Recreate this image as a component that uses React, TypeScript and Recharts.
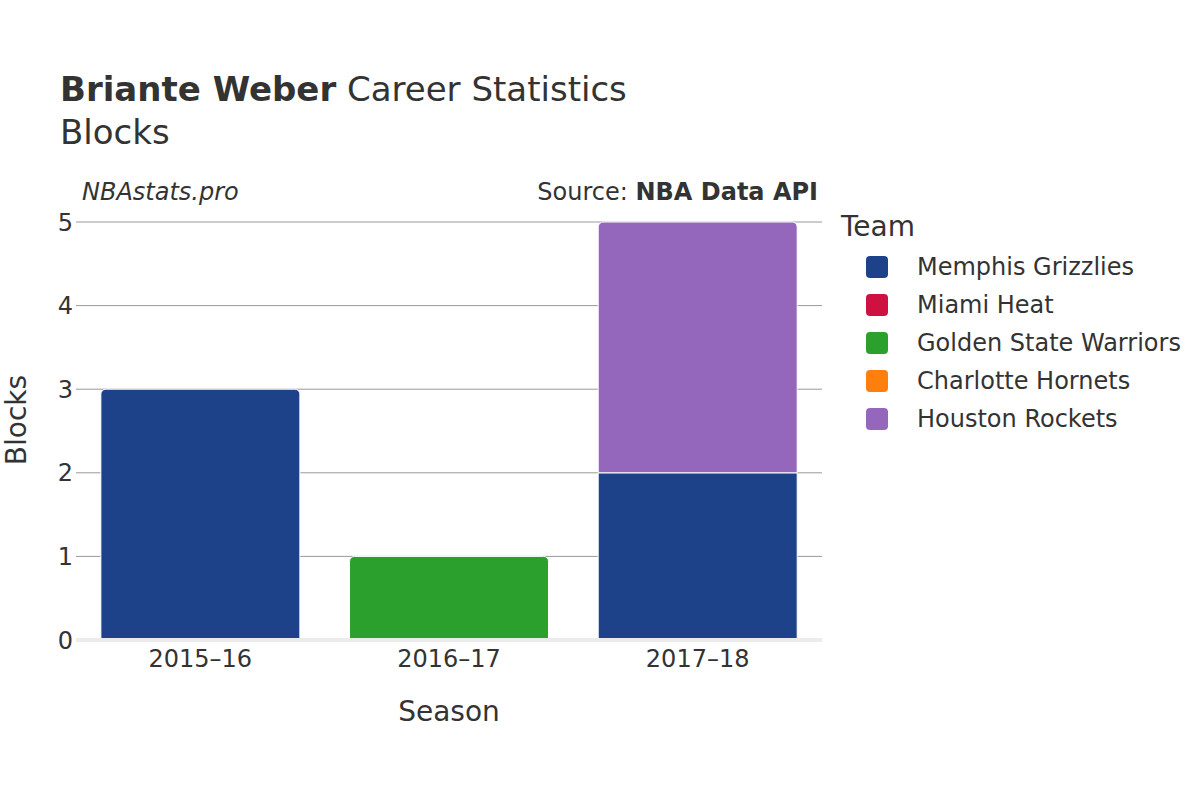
import { BarChart, Bar, XAxis, YAxis, CartesianGrid, Rectangle } from "recharts";

const SEASONS = ["2015–16", "2016–17", "2017–18"];

const TEAMS = [
  { key: "Memphis Grizzlies", color: "#1d428a" },
  { key: "Miami Heat", color: "#ce1141" },
  { key: "Golden State Warriors", color: "#2ca02c" },
  { key: "Charlotte Hornets", color: "#ff7f0e" },
  { key: "Houston Rockets", color: "#9467bd" },
];

// blocks per season, null = did not play for the team that season
const MEMPHIS = [3, null, 2];
const MIAMI = [null, null, null];
const WARRIORS = [null, 1, null];
const HORNETS = [null, null, null];
const ROCKETS = [null, null, 3];

const Y_TICKS = [0, 1, 2, 3, 4, 5];

const SERIES: (number | null)[][] = [MEMPHIS, MIAMI, WARRIORS, HORNETS, ROCKETS];

const data = SEASONS.map((season, i) => {
  const row: Record<string, string | number | null> = { season };
  TEAMS.forEach((t, j) => {
    row[t.key] = SERIES[j][i];
  });
  return row;
});

const FONT = "'DejaVu Sans', sans-serif";
const TEXT = "#333333";

// round only the segment that sits on top of its stack
const isTopOf = (payload: Record<string, any>, teamIdx: number) =>
  TEAMS.slice(teamIdx + 1).every((t) => !payload[t.key]);

function LegendBox() {
  return (
    <div style={{ position: "absolute", left: 866, top: 210, fontFamily: FONT, color: TEXT }}>
      <div style={{ fontSize: 28, height: 38, marginLeft: -25 }}>Team</div>
      {TEAMS.map((t) => (
        <div key={t.key} style={{ display: "flex", alignItems: "center", height: 38 }}>
          <div
            style={{
              width: 22,
              height: 22,
              borderRadius: 4,
              background: t.color,
              marginRight: 29,
            }}
          />
          <span style={{ fontSize: 24, whiteSpace: "nowrap" }}>{t.key}</span>
        </div>
      ))}
    </div>
  );
}

export default function App() {
  return (
    <div style={{ position: "absolute", left: 0, top: 0, width: 1200, height: 800, background: "#fff" }}>
      <BarChart
        width={1200}
        height={800}
        data={data}
        margin={{ top: 222, right: 378, bottom: 130, left: 0 }}
        barCategoryGap="10%"
      >
        <text x={60} y={101} fontFamily={FONT} fontSize={34} fill={TEXT}>
          <tspan fontWeight="bold">Briante Weber</tspan>
          <tspan> Career Statistics</tspan>
        </text>
        <text x={60} y={144} fontFamily={FONT} fontSize={34} fill={TEXT}>
          Blocks
        </text>
        <text x={82} y={200} fontFamily={FONT} fontSize={24} fontStyle="italic" fill={TEXT}>
          NBAstats.pro
        </text>
        <text x={818} y={200} fontFamily={FONT} fontSize={24} fill={TEXT} textAnchor="end">
          <tspan>Source: </tspan>
          <tspan fontWeight="bold">NBA Data API</tspan>
        </text>
        <text
          x={26}
          y={420}
          fontFamily={FONT}
          fontSize={28}
          fill={TEXT}
          textAnchor="middle"
          transform="rotate(-90 26 420)"
        >
          Blocks
        </text>
        <text x={449} y={721} fontFamily={FONT} fontSize={28} fill={TEXT} textAnchor="middle">
          Season
        </text>
        <CartesianGrid vertical={false} stroke="#999999" strokeWidth={1} />
        <XAxis
          dataKey="season"
          axisLine={{ stroke: "#ebebeb", strokeWidth: 4 }}
          tickLine={false}
          tickMargin={4}
          tick={{ fontSize: 24, fill: TEXT, fontFamily: FONT }}
        />
        <YAxis
          width={76}
          domain={[0, 5]}
          ticks={Y_TICKS}
          axisLine={false}
          tickLine={false}
          tickSize={3}
          tickMargin={0}
          tick={{ fontSize: 24, fill: TEXT, fontFamily: FONT }}
        />
        {TEAMS.map((t, idx) => (
          <Bar
            key={t.key}
            dataKey={t.key}
            stackId="a"
            fill={t.color}
            stroke="#ffffff"
            strokeWidth={1}
            isAnimationActive={false}
            shape={(props: any) => (
              <Rectangle {...props} radius={isTopOf(props.payload, idx) ? [5, 5, 0, 0] : 0} />
            )}
          />
        ))}
      </BarChart>
      <LegendBox />
    </div>
  );
}
